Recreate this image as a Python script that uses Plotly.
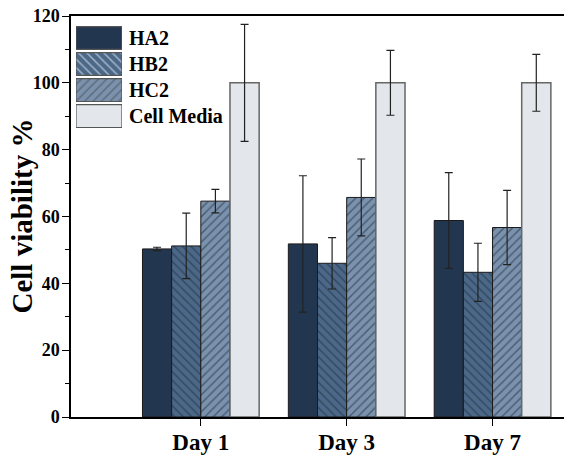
import plotly.graph_objects as go

days = ["Day 1", "Day 3", "Day 7"]
series = ["HA2", "HB2", "HC2", "Cell Media"]
ha2 = [50.3, 51.8, 58.8]
ha2_err = [0.5, 20.4, 14.3]
hb2 = [51.2, 46.0, 43.3]
hb2_err = [9.8, 7.7, 8.7]
hc2 = [64.6, 65.7, 56.7]
hc2_err = [3.5, 11.5, 11.1]
media = [100, 100, 100]
media_err = [17.5, 9.7, 8.5]
y_title = "Cell viability %"

values = [ha2, hb2, hc2, media]
errors = [ha2_err, hb2_err, hc2_err, media_err]
colors = ["#22374f", "#4b6889", "#7a92ad", "#e3e7eb"]
patterns = ["", "\\", "/", ""]
line_colors = ["#1a1a1a", "#1a1a1a", "#1a1a1a", "#666666"]
line_widths = [1, 1, 1, 1.5]

font_family = "Liberation Serif, Times New Roman, serif"
pat_fg = "#1e2a38"

fig = go.Figure()
for name, v, e, c, p, lc, lw in zip(series, values, errors, colors, patterns, line_colors, line_widths):
    fig.add_trace(go.Bar(
        name=name, x=days, y=v, showlegend=False,
        error_y=dict(type="data", array=e, visible=True, color="#222222", thickness=1.2, width=4),
        marker=dict(color=c, line=dict(color=lc, width=lw),
                    pattern=dict(shape=p, fgcolor=pat_fg, size=6, solidity=0.25, fillmode="overlay")),
    ))

# custom legend with large swatches (on a small overlaid axis pair)
fig.add_trace(go.Bar(
    x=[1] * len(series), y=series, orientation="h", xaxis="x2", yaxis="y2", width=0.88,
    showlegend=False, hoverinfo="skip",
    marker=dict(color=colors, line=dict(color="#555555", width=1.2),
                pattern=dict(shape=patterns, fgcolor=pat_fg, size=6, solidity=0.25, fillmode="overlay")),
))
for name in series:
    fig.add_annotation(x=1, y=name, xref="x2", yref="y2", text="<b>%s</b>" % name,
                       showarrow=False, xanchor="left", xshift=5,
                       font=dict(size=20, family=font_family, color="black"))

fig.add_annotation(x=0, y=0.5, xref="paper", yref="paper", text="<b>%s</b>" % y_title,
                   textangle=-90, showarrow=False, xanchor="center", yanchor="middle", xshift=-50,
                   font=dict(size=29, family=font_family, color="black"))

fig.update_layout(
    width=564, height=455,
    margin=dict(l=71, r=0, t=16, b=38, autoexpand=False),
    barmode="group", bargap=0.2, bargroupgap=0,
    plot_bgcolor="white", paper_bgcolor="white",
    font=dict(family=font_family, color="black"),
    xaxis=dict(range=[-0.89, 2.49], showline=True, linecolor="black", linewidth=1.5,
               mirror=True, ticks="outside", ticklen=7, tickcolor="black", automargin=False,
               ticklabelstandoff=-3,
               tickfont=dict(size=23, family=font_family, weight="bold"), showgrid=False),
    yaxis=dict(range=[0, 120], dtick=20, showline=True, linecolor="black", linewidth=1.5,
               ticks="outside", ticklen=7, tickcolor="black", showgrid=False, zeroline=False,
               automargin=False, ticklabeloverflow="allow", ticklabelstandoff=-1,
               tickfont=dict(size=18, family=font_family, weight="bold"),
               minor=dict(dtick=10, ticks="outside", ticklen=4, tickcolor="black")),
    xaxis2=dict(domain=[0.0101, 0.1034], range=[0, 1], anchor="y2", visible=False, fixedrange=True),
    yaxis2=dict(domain=[0.718, 0.9776], anchor="x2", visible=False, type="category",
                categoryorder="array", categoryarray=series[::-1], fixedrange=True),
)
# remove the browser's default page margin so the 564x455 figure fills the window exactly
fig.write_html("out.html", config={"displayModeBar": False},
               post_script="document.body.style.margin='0';document.body.style.overflow='hidden';")
